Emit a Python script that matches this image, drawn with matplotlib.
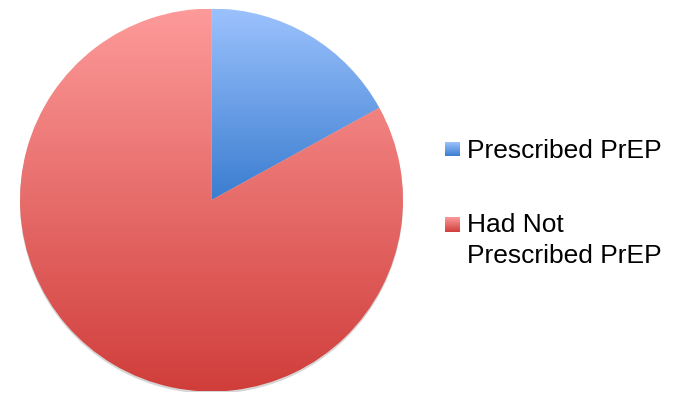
import numpy as np
import matplotlib
matplotlib.use("Agg")
import matplotlib.pyplot as plt
from matplotlib.colors import LinearSegmentedColormap

# ---- data ----
labels = ["Prescribed PrEP", "Had Not\nPrescribed PrEP"]
values = [17, 83]
top_colors = ["#9cc2fd", "#fd9b9a"]
bottom_colors = ["#3a7dd0", "#d03e3b"]

W, H = 677, 396
fig = plt.figure(figsize=(W / 100, H / 100), dpi=100)
fig.patch.set_facecolor("white")

cx, cy, r = 211.5, 200.0, 191.5
ax = fig.add_axes([(cx - r) / W, (H - cy - r) / H, 2 * r / W, 2 * r / H])

# subtle shadow
shadow = plt.Circle((0.0, -0.012), 1.0, color="#bdbdbd", alpha=0.6, zorder=0, lw=0)
ax.add_patch(shadow)
shadow2 = plt.Circle((0.0, -0.006), 1.0, color="#d6d6d6", alpha=0.6, zorder=0, lw=0)
ax.add_patch(shadow2)

wedges, _ = ax.pie(values, startangle=90, counterclock=False, radius=1.0,
                   wedgeprops=dict(linewidth=0))

grad = np.linspace(1, 0, 256).reshape(-1, 1)
for i, w in enumerate(wedges):
    w.set_facecolor("none")
    w.set_zorder(1)
    cmap = LinearSegmentedColormap.from_list("g%d" % i, [bottom_colors[i], top_colors[i]])
    if i == 0:
        ext = [-1, 1, 0, 1]
    else:
        ext = [-1, 1, -1, 1]
    im = ax.imshow(grad, cmap=cmap, extent=ext, aspect="auto", zorder=2,
                   vmin=0, vmax=1, interpolation="bilinear")
    im.set_clip_path(w)

ax.set_xlim(-1, 1)
ax.set_ylim(-1, 1)
ax.set_aspect("equal")
ax.axis("off")

# ---- legend ----
marker_boxes = [(445, 142, 15, 14), (445, 217, 15, 15)]
baselines = [158, 232]
line_gap = 31
for i, lab in enumerate(labels):
    mx, my, mw, mh = marker_boxes[i]
    lax = fig.add_axes([mx / W, (H - my - mh) / H, mw / W, mh / H])
    cmap = LinearSegmentedColormap.from_list("l%d" % i, [bottom_colors[i], top_colors[i]])
    lax.imshow(grad, cmap=cmap, aspect="auto", vmin=0, vmax=1, extent=[0, 1, 0, 1])
    lax.axis("off")
    for j, line in enumerate(lab.split("\n")):
        fig.text(467 / W, (H - baselines[i] - j * line_gap) / H, line,
                 fontsize=19, family=["Liberation Sans", "DejaVu Sans"],
                 va="baseline", ha="left", color="#000000")

fig.savefig("out.png", dpi=100, facecolor="white")
